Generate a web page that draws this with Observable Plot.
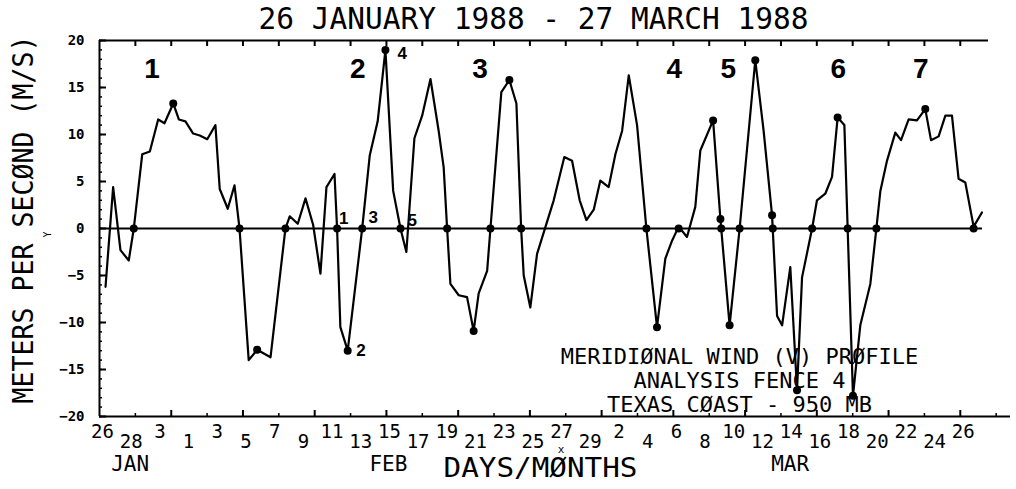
<!DOCTYPE html>
<html>
<head>
<meta charset="utf-8">
<script src="https://cdn.jsdelivr.net/npm/d3@7"></script>
<script src="https://cdn.jsdelivr.net/npm/@observablehq/plot@0.6"></script>
<style>
  body { margin: 0; background: #fff; }
  #chart svg { display: block; }
</style>
</head>
<body>
<div id="chart"></div>
<script>
// ---- texts ----
const titleText = "26 JANUARY 1988 - 27 MARCH 1988";
const yAxisTitle = "METERS PER SECØND (M/S)";
const xAxisTitle = "DAYS/MØNTHS";
const noteLines = ["MERIDIØNAL WIND (V) PRØFILE", "ANALYSIS FENCE 4", "TEXAS CØAST - 950 MB"];

// ---- series: days since 26 Jan 1988, meridional wind v (m/s) ----
const days = [0.42, 0.95, 1.46, 2.04, 2.39, 2.98, 3.51, 4.09, 4.53, 5.14,
  5.53, 5.99, 6.53, 6.99, 7.51, 8.08, 8.38, 8.94, 9.41, 9.76,
  10.40, 10.99, 11.92, 12.96, 13.26, 13.82, 14.36, 14.89, 15.40, 15.82,
  16.38, 16.56, 16.79, 17.30, 18.31, 18.84, 19.39, 19.93, 20.47, 20.98,
  21.39, 21.95, 22.49, 23.07, 23.64, 23.99, 24.23, 24.46, 25.04, 25.62,
  26.08, 26.43, 27.02, 27.25, 28.01, 28.57, 29.06, 29.39, 29.57, 30.03,
  30.50, 31.66, 32.40, 32.94, 33.47, 33.94, 34.45, 34.91, 35.49, 35.96,
  36.43, 36.89, 37.47, 38.12, 38.86, 39.44, 39.91, 40.37, 40.95, 41.53,
  41.88, 42.77, 43.28, 43.92, 44.62, 45.71, 46.29, 46.88, 47.23, 47.58,
  48.15, 48.62, 48.97, 49.67, 50.01, 50.59, 51.06, 51.45, 51.92, 52.52,
  53.03, 53.73, 54.15, 54.43, 54.89, 55.47, 55.87, 56.40, 56.98, 57.56,
  57.96, 58.49, 58.96, 59.42, 59.88, 60.35, 60.93, 61.51];
const wind = [-6.2, 4.4, -2.3, -3.4, 0, 7.9, 8.2, 11.6, 11.2, 13.3,
  11.6, 11.4, 10.1, 9.9, 9.5, 11.0, 4.2, 2.1, 4.6, 0,
  -14.0, -12.9, -13.7, 0, 1.3, 0.5, 3.2, 0.4, -4.8, 4.4,
  5.8, 0, -10.5, -13.0, 0, 7.8, 11.4, 19.0, 4.0, 0,
  -2.5, 9.6, 12.0, 15.9, 10.4, 6.5, 0, -5.9, -7.1, -7.3,
  -10.9, -6.9, -4.5, 0, 14.5, 15.8, 13.3, 0, -5.0, -8.4,
  -2.7, 3.0, 7.6, 7.2, 3.0, 0.9, 2.0, 5.1, 4.4, 7.9,
  10.4, 16.3, 11.0, 0, -10.5, -3.2, -1.3, 0.2, -0.9, 2.3,
  8.3, 11.5, 1.0, -10.3, 0, 17.9, 10.4, 1.4, -9.3, -10.3,
  -4.1, -17.2, -5.2, 0, 3.0, 3.7, 5.5, 11.8, 11.0, -17.8,
  -10.3, -5.9, 0, 4.0, 7.2, 10.2, 9.4, 11.6, 11.5, 12.7,
  9.4, 9.8, 12.0, 12.0, 5.3, 4.9, 0.2, 1.7];

// ---- marked points (zero crossings and extremes) ----
const dotDays = [2.39, 5.14, 9.76, 10.99, 12.96, 16.56, 17.30, 18.31, 19.93, 20.98,
  24.23, 26.08, 27.25, 28.57, 29.39, 38.12, 38.86, 40.37, 42.77, 43.28,
  43.34, 43.92, 44.62, 45.71, 46.88, 46.93, 48.62, 49.67, 51.45, 52.15,
  52.52, 54.15, 57.56, 60.93];
const dotWind = [0, 13.3, 0, -12.9, 0, 0, -13.0, 0, 19.0, 0,
  0, -10.9, 0, 15.8, 0, 0, -10.5, 0, 11.5, 1.0,
  0, -10.3, 0, 17.9, 1.4, 0, -17.2, 0, 11.8, 0,
  -17.8, 0, 12.7, 0];

// ---- event numbers ----
const stormNumbers = ["1", "2", "3", "4", "5", "6", "7"];
const stormDays = [3.67, 18.01, 26.53, 40.07, 43.83, 51.5, 57.25];
const eventLabels = ["1", "2", "3", "4", "5"];
const eventDays = [16.56, 17.30, 18.31, 19.93, 20.98];
const eventWind = [0, -13.0, 0, 19.0, 0];

// ---- axes ----
const xTickDays = d3.range(0, 61, 2);
const xTickLabels = ["26", "28", "3", "1", "3", "5", "7", "9", "11", "13", "15", "17", "19", "21", "23", "25",
  "27", "29", "2", "4", "6", "8", "10", "12", "14", "16", "18", "20", "22", "24", "26"];
const monthDays = [2, 20, 48];
const monthNames = ["JAN", "FEB", "MAR"];
const yTicks = [-20, -15, -10, -5, 0, 5, 10, 15, 20];
const yMinorTicks = d3.range(-20, 21, 1);
const xMajorTicks = d3.range(5, 61, 5);
const xMinorTicks = d3.range(2.5, 63, 5);
const xTopTicks = d3.range(2.5, 61, 2.5);

// ---- build ----
const series = days.map((d, i) => ({day: d, wind: wind[i]}));
const dots = dotDays.map((d, i) => ({day: d, wind: dotWind[i]}));
const storms = stormNumbers.map((s, i) => ({label: s, day: stormDays[i]}));
const events = eventLabels.map((s, i) => ({label: s, day: eventDays[i], wind: eventWind[i]}));
const xLabels = xTickDays.map((d, i) => ({day: d, label: xTickLabels[i], high: i % 2 === 0}));
const months = monthNames.map((m, i) => ({day: monthDays[i], label: m}));

const mono = "DejaVu Sans Mono";
const sans = "Liberation Sans";
const ident = d => d;
const blank = () => "";
const eventOffsets = [[6.6, -9.7], [13.4, 0], [11, -11.3], [16.7, 4], [11.7, -8]];

const chart = Plot.plot({
  width: 1016,
  height: 489,
  marginTop: 40,
  marginBottom: 73,
  marginLeft: 99,
  marginRight: 6,
  style: {background: "white", color: "black", overflow: "visible"},
  x: {domain: [0, 63.5]},
  y: {domain: [-20, 20]},
  marks: [
    // frame lines
    Plot.ruleX([0], {strokeWidth: 2}),
    Plot.ruleY([-20], {strokeWidth: 2}),
    Plot.ruleY([20], {strokeWidth: 2, insetRight: 22}),
    Plot.ruleY([0], {strokeWidth: 2, insetRight: 28}),
    // y axis
    Plot.axisY(yTicks, {tickSize: 0, tickPadding: 15, fontSize: 14, fontWeight: "bold", fontFamily: mono, label: null}),
    Plot.axisY(yTicks, {tickSize: -7, strokeWidth: 2, tickFormat: blank, label: null}),
    Plot.axisY(yMinorTicks, {tickSize: -3, strokeWidth: 1.5, tickFormat: blank, label: null}),
    // x axis ticks
    Plot.axisX(xMajorTicks, {tickSize: -6, strokeWidth: 2, tickFormat: blank, label: null}),
    Plot.axisX(xMinorTicks, {tickSize: -3, strokeWidth: 1.5, tickFormat: blank, label: null}),
    Plot.axisX(xTopTicks, {anchor: "top", tickSize: -5, strokeWidth: 2, tickFormat: blank, label: null}),
    // x tick labels (staggered)
    Plot.text(xLabels.filter(d => d.high), {x: "day", text: "label", frameAnchor: "bottom", dx: 3, dy: 15, lineAnchor: "middle", fontSize: 19, fontFamily: mono}),
    Plot.text(xLabels.filter(d => !d.high), {x: "day", text: "label", frameAnchor: "bottom", dx: 3, dy: 25.5, lineAnchor: "middle", fontSize: 19, fontFamily: mono}),
    Plot.text(months, {x: "day", text: "label", frameAnchor: "bottom", dx: 2, dy: 47.5, lineAnchor: "middle", fontSize: 21, fontFamily: mono}),
    Plot.text([xAxisTitle], {text: ident, frameAnchor: "bottom", dx: -14.5, dy: 52, lineAnchor: "middle", fontSize: 27, fontFamily: mono}),
    Plot.text(["x"], {text: ident, frameAnchor: "bottom", dx: 6, dy: 33, lineAnchor: "middle", fontSize: 11, fontFamily: mono}),
    // y axis title
    Plot.text([yAxisTitle], {text: ident, frameAnchor: "left", textAnchor: "middle", rotate: -90, dx: -76, dy: -9, lineAnchor: "middle", fontSize: 29, fontFamily: mono}),
    Plot.text(["Y"], {text: ident, frameAnchor: "left", textAnchor: "middle", rotate: -90, dx: -52, dy: 6, lineAnchor: "middle", fontSize: 10, fontFamily: mono}),
    // title
    Plot.text([titleText], {text: ident, frameAnchor: "top", dx: -21.5, dy: -21.5, lineAnchor: "middle", fontSize: 31, fontFamily: mono}),
    // data
    Plot.line(series, {x: "day", y: "wind", strokeWidth: 2.2, strokeLinejoin: "round"}),
    Plot.dot(dots, {x: "day", y: "wind", r: 4, fill: "black", stroke: "none"}),
    // event numbers
    Plot.text(storms, {x: "day", text: "label", frameAnchor: "top", dy: 29, lineAnchor: "middle", fontSize: 28, fontWeight: "bold", fontFamily: sans}),
    ...events.map((e, i) => Plot.text([e], {x: "day", y: "wind", text: "label", dx: eventOffsets[i][0], dy: eventOffsets[i][1], lineAnchor: "middle", fontSize: 17, fontWeight: "bold", fontFamily: sans})),
    // annotation
    Plot.text([noteLines.join("\n")], {text: ident, frameAnchor: "bottom", dx: 184.5, dy: -4.5, lineAnchor: "bottom", lineHeight: 1.1, fontSize: 22, fontFamily: mono})
  ]
});

// fit long titles to their measured lengths
d3.select(chart).selectAll("text").each(function () {
  const t = this.textContent;
  if (t === titleText) { this.setAttribute("textLength", 550); this.setAttribute("lengthAdjust", "spacingAndGlyphs"); }
  if (t === yAxisTitle) { this.setAttribute("textLength", 368); this.setAttribute("lengthAdjust", "spacingAndGlyphs"); }
  if (t === xAxisTitle) { this.setAttribute("textLength", 194); this.setAttribute("lengthAdjust", "spacingAndGlyphs"); }
});

document.getElementById("chart").appendChild(chart);
</script>
</body>
</html>
